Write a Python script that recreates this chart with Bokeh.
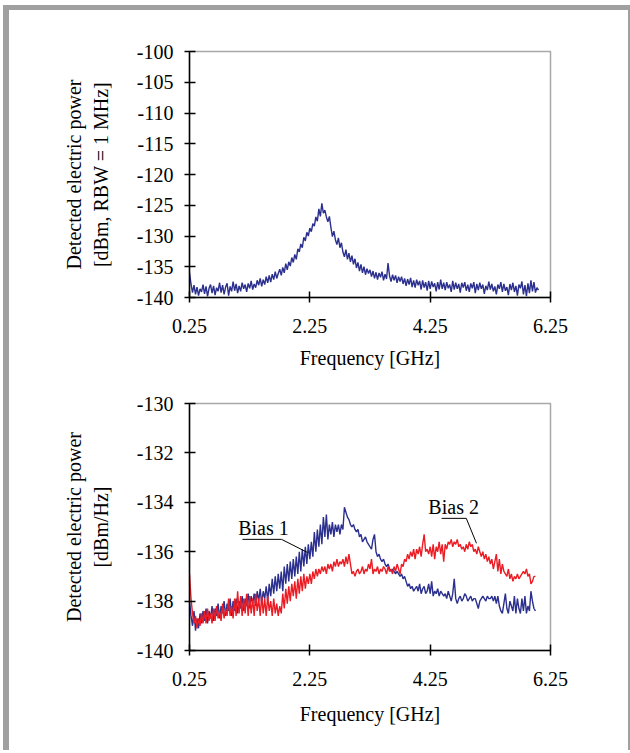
from bokeh.plotting import figure
from bokeh.models import FixedTicker, Range1d
from bokeh.layouts import column
from bokeh.embed import file_html
from bokeh.resources import INLINE
from bokeh.core.properties import value

# ---------------- data ----------------
# sampling grid [GHz]
FREQ = [0.250, 0.275, 0.300, 0.325, 0.350, 0.375, 0.400, 0.425, 0.450, 0.475,
        0.500, 0.525, 0.550, 0.575, 0.600, 0.625, 0.650, 0.675, 0.700, 0.725,
        0.750, 0.775, 0.800, 0.825, 0.850, 0.875, 0.900, 0.925, 0.950, 0.975,
        1.000, 1.025, 1.050, 1.075, 1.100, 1.125, 1.150, 1.175, 1.200, 1.225,
        1.250, 1.275, 1.300, 1.325, 1.350, 1.375, 1.400, 1.425, 1.450, 1.475,
        1.500, 1.525, 1.550, 1.575, 1.600, 1.625, 1.650, 1.675, 1.700, 1.725,
        1.750, 1.775, 1.800, 1.825, 1.850, 1.875, 1.900, 1.925, 1.950, 1.975,
        2.000, 2.025, 2.050, 2.075, 2.100, 2.125, 2.150, 2.175, 2.200, 2.225,
        2.250, 2.275, 2.300, 2.325, 2.350, 2.375, 2.400, 2.425, 2.450, 2.475,
        2.500, 2.525, 2.550, 2.575, 2.600, 2.625, 2.650, 2.675, 2.700, 2.725,
        2.750, 2.775, 2.800, 2.825, 2.850, 2.875, 2.900, 2.925, 2.950, 2.975,
        3.000, 3.025, 3.050, 3.075, 3.100, 3.125, 3.150, 3.175, 3.200, 3.225,
        3.250, 3.275, 3.300, 3.325, 3.350, 3.375, 3.400, 3.425, 3.450, 3.475,
        3.500, 3.525, 3.550, 3.575, 3.600, 3.625, 3.650, 3.675, 3.700, 3.725,
        3.750, 3.775, 3.800, 3.825, 3.850, 3.875, 3.900, 3.925, 3.950, 3.975,
        4.000, 4.025, 4.050, 4.075, 4.100, 4.125, 4.150, 4.175, 4.200, 4.225,
        4.250, 4.275, 4.300, 4.325, 4.350, 4.375, 4.400, 4.425, 4.450, 4.475,
        4.500, 4.525, 4.550, 4.575, 4.600, 4.625, 4.650, 4.675, 4.700, 4.725,
        4.750, 4.775, 4.800, 4.825, 4.850, 4.875, 4.900, 4.925, 4.950, 4.975,
        5.000, 5.025, 5.050, 5.075, 5.100, 5.125, 5.150, 5.175, 5.200, 5.225,
        5.250, 5.275, 5.300, 5.325, 5.350, 5.375, 5.400, 5.425, 5.450, 5.475,
        5.500, 5.525, 5.550, 5.575, 5.600, 5.625, 5.650, 5.675, 5.700, 5.725,
        5.750, 5.775, 5.800, 5.825, 5.850, 5.875, 5.900, 5.925, 5.950, 5.975,
        6.000, 6.025, 6.050]

# top chart: detected power [dBm, RBW = 1 MHz], 0.250 ... 6.050 GHz
POWER_RBW = [-136.0, -137.8, -139.2, -138.0, -139.5, -138.3, -139.7, -138.6, -139.1, -137.9,
             -139.4, -138.2, -139.8, -138.5, -137.9, -139.3, -138.1, -139.6, -138.4, -139.0,
             -137.6, -139.2, -138.0, -139.5, -138.3, -137.7, -139.7, -138.2, -139.0, -137.4,
             -138.9, -137.8, -139.3, -138.1, -139.0, -137.6, -138.6, -137.9, -139.1, -137.7,
             -138.5, -137.3, -138.7, -137.8, -138.4, -137.2, -138.0, -136.9, -138.2, -137.1,
             -137.9, -136.6, -137.6, -136.4, -137.5, -136.2, -137.1, -135.8, -136.9, -136.1,
             -135.4, -136.4, -135.1, -136.0, -134.5, -135.5, -134.2, -134.9, -133.5, -134.3,
             -133.0, -133.8, -132.1, -132.6, -131.3, -131.9, -130.2, -130.8, -129.4, -130.0,
             -128.7, -129.3, -128.0, -128.4, -126.9, -127.6, -125.6, -126.8, -124.7, -126.3,
             -125.8, -126.9, -127.7, -126.8, -128.6, -130.1, -129.2, -130.6, -131.4, -130.3,
             -131.9, -131.1, -132.6, -133.4, -132.2, -133.8, -132.8, -134.2, -133.2, -134.6,
             -133.7, -135.2, -134.3, -135.7, -134.6, -136.0, -135.0, -136.3, -135.3, -136.1,
             -135.5, -136.6, -135.7, -136.9, -135.9, -137.1, -136.0, -136.7, -135.8, -137.2,
             -136.2, -137.0, -134.4, -136.5, -137.4, -136.3, -137.2, -136.4, -137.6, -136.6,
             -137.4, -136.6, -137.8, -136.9, -138.1, -137.0, -137.9, -136.8, -138.3, -137.2,
             -138.4, -137.1, -138.0, -137.3, -138.7, -137.2, -138.4, -137.5, -138.9, -137.3,
             -138.6, -137.4, -138.3, -137.7, -139.0, -137.5, -138.7, -137.1, -138.6, -137.6,
             -138.8, -137.5, -138.5, -137.9, -139.1, -137.3, -138.7, -137.6, -138.6, -137.8,
             -139.2, -137.6, -138.4, -137.5, -138.9, -137.9, -139.1, -137.7, -138.5, -137.5,
             -139.3, -137.8, -138.8, -137.6, -138.6, -137.9, -139.4, -138.1, -138.8, -137.4,
             -138.7, -137.8, -139.0, -138.2, -139.5, -137.9, -138.6, -137.5, -139.1, -137.8,
             -138.9, -138.3, -139.6, -137.8, -138.8, -137.6, -139.1, -138.1, -139.7, -137.9,
             -138.5, -137.4, -139.5, -138.0, -139.8, -137.7, -139.3, -137.2, -139.0, -137.5,
             -139.2, -138.4, -138.8]

# bottom chart: detected power [dBm/Hz], 0.250 ... 6.000 GHz
BIAS1 = [-138.0, -138.6, -139.0, -138.4, -139.2, -138.7, -139.1, -138.5, -138.9, -138.4,
         -138.8, -138.3, -138.9, -138.4, -138.7, -138.2, -138.8, -138.3, -138.6, -138.1,
         -138.7, -138.2, -138.5, -138.0, -138.6, -138.1, -138.4, -137.9, -138.6, -138.0,
         -138.4, -137.9, -138.5, -138.0, -138.3, -137.8, -138.4, -137.9, -138.2, -137.7,
         -138.3, -137.8, -138.1, -137.7, -138.2, -137.6, -138.0, -137.5, -138.1, -137.6,
         -137.9, -137.4, -138.0, -137.3, -137.8, -137.1, -137.7, -137.0, -137.6, -136.9,
         -137.5, -136.8, -137.6, -136.6, -137.3, -136.5, -137.2, -136.4, -137.1, -136.3,
         -137.0, -136.2, -136.9, -136.0, -136.8, -135.9, -136.6, -135.8, -136.5, -135.7,
         -136.3, -135.6, -136.2, -135.2, -136.0, -135.1, -135.8, -134.9, -135.7, -134.6,
         -135.4, -134.5, -135.5, -134.9, -135.3, -134.8, -135.4, -134.9, -135.2, -134.9,
         -135.3, -134.9, -135.1, -134.2, -134.4, -134.6, -134.7, -134.9, -135.0, -134.9,
         -135.1, -135.2, -135.1, -135.4, -135.3, -135.6, -135.5, -135.4, -135.6, -135.7,
         -135.8, -135.9, -135.5, -135.3, -136.0, -136.2, -136.1, -136.3, -136.4, -136.3,
         -136.5, -136.6, -136.5, -136.7, -136.8, -136.7, -136.8, -136.9, -136.8, -136.9,
         -137.0, -136.9, -137.1, -137.0, -137.2, -137.4, -137.3, -137.5, -137.4, -137.6,
         -137.5, -137.4, -137.6, -137.3, -137.7, -137.5, -137.4, -137.7, -137.6, -137.3,
         -137.7, -137.2, -137.8, -137.6, -137.7, -137.5, -137.8, -137.6, -137.7, -137.8,
         -137.7, -137.9, -137.6, -137.8, -138.0, -137.7, -137.1, -137.9, -138.1, -137.9,
         -137.8, -138.0, -137.9, -137.7, -137.8, -138.0, -137.9, -137.8, -138.0, -137.9,
         -137.9, -138.1, -138.3, -138.0, -137.9, -137.8, -137.9, -138.0, -137.8, -137.9,
         -137.9, -137.8, -138.0, -137.8, -138.1, -137.8, -138.2, -138.4, -138.5, -138.1,
         -137.7, -138.3, -138.5, -138.0, -138.2, -138.4, -137.8, -138.5, -137.9, -138.3,
         -138.5, -137.9, -138.4, -137.8, -138.5, -138.2, -138.4, -137.6, -138.0, -138.3,
         -138.4]
BIAS2 = [-136.9, -137.9, -138.5, -138.9, -138.6, -139.1, -138.7, -139.0, -138.5, -138.9,
         -138.4, -138.9, -138.3, -138.8, -138.5, -138.9, -138.3, -138.8, -138.2, -138.7,
         -138.4, -138.8, -138.1, -138.7, -138.3, -138.6, -137.9, -138.6, -138.2, -138.7,
         -137.9, -138.6, -137.6, -138.5, -137.8, -138.6, -137.9, -138.5, -137.7, -138.6,
         -137.8, -138.5, -137.9, -138.6, -137.7, -138.4, -137.9, -138.6, -137.8, -138.5,
         -137.9, -138.6, -137.8, -138.4, -138.0, -138.6, -137.9, -138.5, -138.1, -138.6,
         -138.2, -138.5, -137.7, -138.3, -137.5, -138.1, -137.4, -138.0, -137.3, -137.8,
         -137.2, -137.9, -137.1, -137.7, -137.0, -137.6, -136.9, -137.5, -137.0, -137.3,
         -136.9, -137.3, -136.8, -137.1, -136.7, -137.0, -136.7, -136.9, -136.6, -136.8,
         -136.6, -136.9, -136.5, -136.7, -136.5, -136.8, -136.4, -136.6, -136.3, -136.6,
         -136.4, -136.5, -136.3, -136.6, -136.2, -136.5, -136.1, -136.5, -136.9, -136.8,
         -137.0, -136.8, -136.7, -136.9, -136.8, -136.6, -136.9, -136.7, -136.8, -136.5,
         -136.7, -136.3, -136.9, -136.7, -136.8, -136.6, -136.9, -136.7, -136.8, -136.6,
         -136.7, -136.9, -136.6, -136.8, -136.7, -136.9, -136.6, -136.8, -136.5, -136.7,
         -136.9, -136.5, -136.6, -136.3, -136.4, -136.1, -136.3, -136.0, -136.2, -135.9,
         -136.3, -135.9, -136.1, -135.8, -136.2, -135.7, -135.3, -136.0, -135.9, -136.1,
         -135.8, -136.2, -135.7, -136.3, -135.8, -136.0, -135.6, -136.1, -135.7, -136.4,
         -135.7, -135.9, -135.6, -135.7, -135.5, -135.8, -135.6, -135.7, -135.5, -135.8,
         -135.7, -135.9, -135.8, -136.0, -135.7, -135.9, -135.6, -135.8, -135.7, -136.0,
         -135.9, -136.1, -135.8, -136.0, -136.2, -136.0, -136.3, -136.1, -136.4, -136.2,
         -136.5, -136.3, -136.7, -136.4, -136.1, -136.8, -136.3, -136.9, -136.5, -136.8,
         -136.9, -137.0, -136.7, -137.1, -136.9, -137.2, -137.0, -137.1, -136.9, -137.1,
         -137.0, -136.9, -136.8, -136.9, -136.7, -137.0, -136.9, -137.3, -137.2, -137.0,
         -137.0]

X_TICKS = [0.25, 2.25, 4.25, 6.25]
TOP_Y_TICKS = [-140, -135, -130, -125, -120, -115, -110, -105, -100]
BOTTOM_Y_TICKS = [-140, -138, -136, -134, -132, -130]

LABELS = ["Bias 1", "Bias 2"]
LABEL_X = [1.48, 4.64]
LABEL_Y = [-135.05, -134.2]
LEADER1_X = [1.13, 1.78, 2.21]
LEADER1_Y = [-135.5, -135.5, -136.03]
LEADER2_X = [4.44, 4.85, 5.02]
LEADER2_Y = [-134.65, -134.65, -135.66]

FONT = "Liberation Serif"
BLUE = "#2B2F8E"
RED = "#EC1C24"


def style(p, yticks, title_standoff):
    p.xgrid.grid_line_color = None
    p.ygrid.grid_line_color = None
    p.outline_line_color = "#a8a8a8"
    p.outline_line_width = 1.5
    p.background_fill_color = "white"
    p.border_fill_color = "white"
    p.xaxis.ticker = FixedTicker(ticks=X_TICKS)
    p.yaxis.ticker = FixedTicker(ticks=yticks)
    p.yaxis.major_label_overrides = {t: str(t) for t in yticks}
    for ax in (p.xaxis[0], p.yaxis[0]):
        ax.axis_line_color = "black"
        ax.axis_line_width = 1.5
        ax.major_tick_line_color = "black"
        ax.major_tick_line_width = 1.5
        ax.major_tick_in = 6
        ax.major_tick_out = 5
        ax.minor_tick_line_color = None
        ax.major_label_text_font = FONT
        ax.major_label_text_font_size = "20px"
        ax.major_label_text_color = "black"
        ax.axis_label_text_font = FONT
        ax.axis_label_text_font_size = "20px"
        ax.axis_label_text_font_style = "normal"
        ax.axis_label_text_color = "black"
    p.xaxis.major_label_standoff = 16
    p.xaxis.axis_label_standoff = title_standoff
    p.yaxis.major_label_standoff = 11
    p.yaxis.axis_label_standoff = 22
    p.xaxis.axis_label = "Frequency [GHz]"


p1 = figure(frame_width=361, frame_height=246,
            min_border_left=180, min_border_right=78,
            min_border_top=41, min_border_bottom=83,
            x_range=Range1d(0.25, 6.25), y_range=Range1d(-140, -100),
            output_backend="svg", toolbar_location=None)
style(p1, TOP_Y_TICKS, 11)
p1.yaxis.axis_label = "Detected electric power\n[dBm, RBW = 1 MHz]"
p1.line(FREQ[:len(POWER_RBW)], POWER_RBW, line_color=BLUE, line_width=1.4)

p2 = figure(frame_width=361, frame_height=247,
            min_border_left=180, min_border_right=78,
            min_border_top=23, min_border_bottom=100,
            x_range=Range1d(0.25, 6.25), y_range=Range1d(-140, -130),
            output_backend="svg", toolbar_location=None)
style(p2, BOTTOM_Y_TICKS, 14)
p2.yaxis.axis_label = "Detected electric power\n[dBm/Hz]"
p2.line(FREQ[:len(BIAS1)], BIAS1, line_color=BLUE, line_width=1.4)
p2.line(FREQ[:len(BIAS2)], BIAS2, line_color=RED, line_width=1.4)
p2.line(LEADER1_X, LEADER1_Y, line_color="black", line_width=1)
p2.line(LEADER2_X, LEADER2_Y, line_color="black", line_width=1)
p2.text(LABEL_X, LABEL_Y, text=LABELS, text_font=value(FONT),
        text_font_size="20px", text_color="black",
        text_align="center", text_baseline="middle")

layout = column(p1, p2, spacing=0,
                styles={"margin-left": "3px", "margin-top": "5px",
                        "border-left": "6px solid #a0a0a0",
                        "border-top": "5px solid #a0a0a0",
                        "border-right": "2px solid #a0a0a0"})

with open("out.html", "w") as f:
    f.write(file_html(layout, INLINE))
